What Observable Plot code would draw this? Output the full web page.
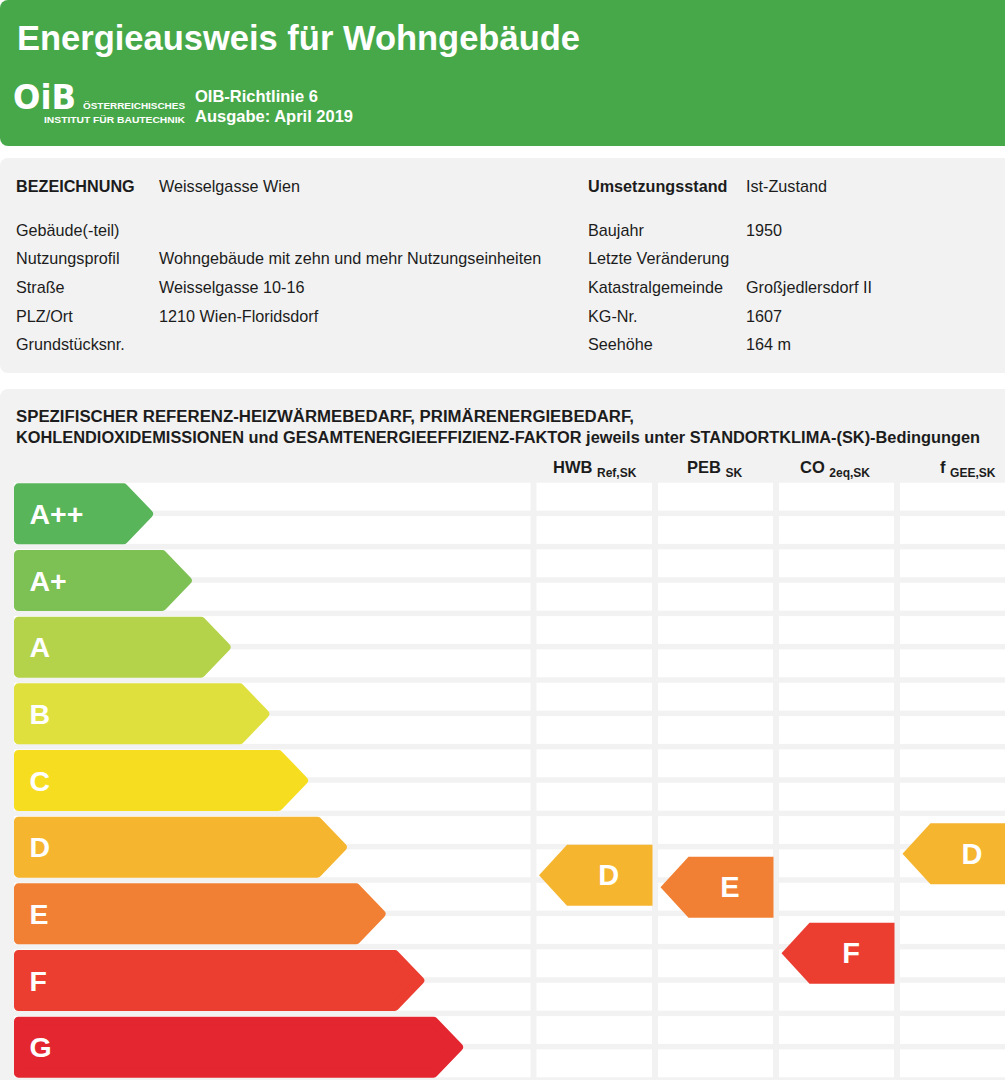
<!DOCTYPE html>
<html>
<head>
<meta charset="utf-8">
<script src="https://cdn.jsdelivr.net/npm/d3@7"></script>
<script src="https://cdn.jsdelivr.net/npm/@observablehq/plot@0.6"></script>
<style>
  body { margin: 0; background: #fff; font-family: "Liberation Sans", Arial, sans-serif; }
  #page { position: relative; width: 1005px; height: 1080px; overflow: hidden; background: #fff; }
  .abs { position: absolute; white-space: nowrap; line-height: 1; }
  .panel { position: absolute; background: #f2f2f2; border-radius: 8px; }
  #chart { position: absolute; left: 0; top: 480px; }
  #chart svg { background: transparent; }
</style>
</head>
<body>
<div id="page">
  <div class="panel" style="left:0;top:0;width:1020px;height:146px;background:#47a849;"></div>
  <div class="panel" style="left:0;top:158px;width:1020px;height:215px;"></div>
  <div class="panel" style="left:0;top:389px;width:1020px;height:720px;"></div>
  <div id="chart"></div>
</div>
<script>
// ---------- data ----------
const docTitle = "Energieausweis für Wohngebäude";
const orgLines = ["ÖSTERREICHISCHES", "INSTITUT FÜR BAUTECHNIK"];
const guideline = ["OIB-Richtlinie 6", "Ausgabe: April 2019"];

const leftLabels = ["BEZEICHNUNG", "Gebäude(-teil)", "Nutzungsprofil", "Straße", "PLZ/Ort", "Grundstücksnr."];
const leftValues = ["Weisselgasse Wien", "", "Wohngebäude mit zehn und mehr Nutzungseinheiten", "Weisselgasse 10-16", "1210 Wien-Floridsdorf", ""];
const rightLabels = ["Umsetzungsstand", "Baujahr", "Letzte Veränderung", "Katastralgemeinde", "KG-Nr.", "Seehöhe"];
const rightValues = ["Ist-Zustand", "1950", "", "Großjedlersdorf II", "1607", "164 m"];

const sectionTitle = [
  "SPEZIFISCHER REFERENZ-HEIZWÄRMEBEDARF, PRIMÄRENERGIEBEDARF,",
  "KOHLENDIOXIDEMISSIONEN und GESAMTENERGIEEFFIZIENZ-FAKTOR jeweils unter STANDORTKLIMA-(SK)-Bedingungen"
];

const classes = ["A++", "A+", "A", "B", "C", "D", "E", "F", "G"];
const classColors = ["#58b55a", "#7dc053", "#b4d34a", "#dfe03d", "#f6dd1f", "#f6b52f", "#f18034", "#eb3d30", "#e3262f"];

const indicatorNames = ["HWB", "PEB", "CO", "f"];
const indicatorSubs = ["Ref,SK", "SK", "2eq,SK", "GEE,SK"];
const indicatorRatings = ["D", "E", "F", "D"];
// position on the class scale (A++ = 0 ... G = 8)
const indicatorPositions = [5.42, 5.6, 6.59, 5.1];

// ---------- HTML text ----------
const page = document.getElementById("page");
function place(text, x, cy, size, opts = {}) {
  const s = document.createElement("div");
  s.className = "abs";
  s.textContent = text;
  s.style.left = x + "px";
  s.style.top = (cy - 0.49 * size) + "px";
  s.style.fontSize = size + "px";
  s.style.fontWeight = opts.weight || "normal";
  s.style.color = opts.color || "#1c1c1c";
  if (opts.family) s.style.fontFamily = opts.family;
  page.appendChild(s);
  if (opts.fit) {
    const w = s.getBoundingClientRect().width;
    s.style.transformOrigin = "0 0";
    s.style.transform = `scaleX(${opts.fit / w})`;
  }
  return s;
}

place(docTitle, 17, 37.5, 34.5, {weight: "bold", color: "#fff"});
place("OiB", 13, 97, 34, {weight: "900", color: "#fff", family: "'DejaVu Sans', sans-serif", fit: 63});
place(orgLines[0], 83, 105.5, 9.5, {weight: "bold", color: "#fff", fit: 102});
place(orgLines[1], 44, 119.5, 9.5, {weight: "bold", color: "#fff", fit: 141});
place(guideline[0], 195, 96, 16.5, {weight: "bold", color: "#fff"});
place(guideline[1], 195, 116.5, 16.5, {weight: "bold", color: "#fff"});

const rowY = [186, 229.5, 258, 287, 315.5, 344];
const infoSize = 16.2;
leftLabels.forEach((t, i) => place(t, 16, rowY[i], infoSize, {weight: i === 0 ? "bold" : "normal"}));
leftValues.forEach((t, i) => t && place(t, 159, rowY[i], infoSize));
rightLabels.forEach((t, i) => place(t, 588, rowY[i], infoSize, {weight: i === 0 ? "bold" : "normal"}));
rightValues.forEach((t, i) => t && place(t, 746, rowY[i], infoSize));

place(sectionTitle[0], 16, 416.5, 16, {weight: "bold", fit: 618});
place(sectionTitle[1], 16, 437.5, 16, {weight: "bold", fit: 964});

// column layout (pixels)
const colEdges = [11, 533.5, 655, 776, 897, 1018];
const headerX = [553, 687, 800, 940];
indicatorNames.forEach((n, i) => {
  const d = document.createElement("div");
  d.className = "abs";
  d.style.left = headerX[i] + "px";
  d.style.top = (467.5 - 0.49 * 16.5) + "px";
  d.style.fontSize = "16.5px";
  d.style.fontWeight = "bold";
  d.style.color = "#1c1c1c";
  d.innerHTML = `${n} <span style="font-size:12px;position:relative;top:4px">${indicatorSubs[i]}</span>`;
  page.appendChild(d);
});

// ---------- chart ----------
const cells = [];
for (let k = 0; k < classes.length * 2; k++) {
  for (let c = 0; c < colEdges.length - 1; c++) {
    cells.push({x1: colEdges[c], x2: colEdges[c + 1], y1: -0.5 + k * 0.5, y2: -0.5 + (k + 1) * 0.5});
  }
}

const arrowStart = 18, tipBase = 148, tipStep = 38.75, tipDepth = 25, halfH = 0.39;
const classArrows = classes.map((cls, i) => {
  const tip = tipBase + tipStep * i;
  return {
    cls, color: classColors[i], index: i,
    pts: [
      {x: arrowStart, y: i - halfH},
      {x: tip - tipDepth, y: i - halfH},
      {x: tip, y: i},
      {x: tip - tipDepth, y: i + halfH},
      {x: arrowStart, y: i + halfH}
    ]
  };
});

const rHalf = 0.4575, rDepth = 28;
const indicatorArrows = indicatorNames.map((n, c) => {
  const left = colEdges[c + 1] + 5;
  const right = colEdges[c + 2] - 3;
  const y = indicatorPositions[c];
  const color = classColors[classes.indexOf(indicatorRatings[c])];
  return {
    rating: indicatorRatings[c], color, y, labelX: (left + rDepth + right) / 2 - 1,
    pts: [
      {x: right, y: y - rHalf},
      {x: left + rDepth, y: y - rHalf},
      {x: left, y},
      {x: left + rDepth, y: y + rHalf},
      {x: right, y: y + rHalf}
    ]
  };
});

const marks = [
  Plot.rect(cells, {x1: "x1", x2: "x2", y1: "y1", y2: "y2", fill: "#ffffff",
    insetLeft: 3, insetRight: 3, insetTop: 2.75, insetBottom: 2.75})
];
classArrows.forEach(a => {
  marks.push(Plot.line(a.pts, {x: "x", y: "y", curve: "linear-closed", fill: a.color, stroke: a.color,
    strokeWidth: 9, strokeLinejoin: "round"}));
});
marks.push(Plot.text(classArrows, {x: () => 29, y: "index", text: "cls", fill: "#fff", fontSize: 28.5,
  fontWeight: "bold", textAnchor: "start", fontFamily: "Liberation Sans, Arial, sans-serif", dy: 1}));
indicatorArrows.forEach(a => {
  marks.push(Plot.line(a.pts, {x: "x", y: "y", curve: "linear-closed", fill: a.color, stroke: "none"}));
});
marks.push(Plot.text(indicatorArrows, {x: "labelX", y: "y", text: "rating", fill: "#fff", fontSize: 29,
  fontWeight: "bold", fontFamily: "Liberation Sans, Arial, sans-serif", dy: 1}));

const chart = Plot.plot({
  width: 1005,
  height: 600,
  margin: 0,
  x: {type: "linear", domain: [0, 1005], range: [0, 1005], axis: null},
  y: {type: "linear", domain: [-0.5, 8.5], range: [0, 600], axis: null},
  style: {background: "transparent", overflow: "hidden"},
  marks
});
document.getElementById("chart").appendChild(chart);
</script>
</body>
</html>
